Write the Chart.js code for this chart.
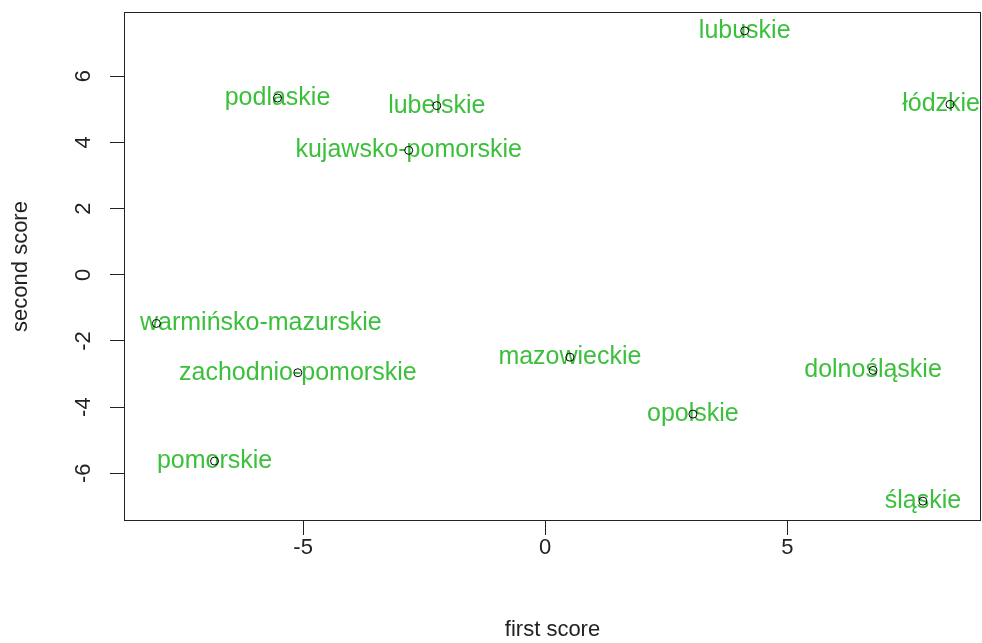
<!DOCTYPE html>
<html>
<head>
<meta charset="utf-8">
<script src="https://cdn.jsdelivr.net/npm/chart.js@4.4.1/dist/chart.umd.min.js"></script>
<style>
  html, body { margin: 0; padding: 0; background: #fff; }
  #wrap { width: 982px; height: 643px; }
</style>
</head>
<body>
<div id="wrap"><canvas id="scoreChart" width="982" height="643"></canvas></div>
<script>
// voivodeship names and their scores
const regions = [
    'lubuskie', 'łódzkie', 'lubelskie', 'podlaskie', 'kujawsko-pomorskie',
    'warmińsko-mazurskie', 'zachodnio-pomorskie', 'mazowieckie', 'dolnośląskie',
    'opolskie', 'pomorskie', 'śląskie'
];
const firstScore = [4.12, 8.36, -2.24, -5.53, -2.82, -8.03, -5.11, 0.51, 6.77, 3.05, -6.83, 7.80];
const secondScore = [7.37, 5.15, 5.11, 5.34, 3.76, -1.47, -2.96, -2.49, -2.89, -4.21, -5.63, -6.84];

const xTicks = [-5, 0, 5];
const yTicks = [-6, -4, -2, 0, 2, 4, 6];

const FONT = "'Liberation Sans', Arial, sans-serif";
const LABEL_COLOR = '#3cc03c';
const AXIS_COLOR = '#222';

const points = firstScore.map((x, i) => ({ x: x, y: secondScore[i] }));

// box round the plot area, like R's box()
const boxPlugin = {
    id: 'box',
    afterDraw(chart) {
        const { ctx, chartArea: a } = chart;
        ctx.save();
        ctx.strokeStyle = AXIS_COLOR;
        ctx.lineWidth = 1;
        ctx.strokeRect(a.left + 0.5, a.top + 0.5, a.right - a.left - 1, a.bottom - a.top - 1);
        ctx.restore();
    }
};

// region names written at each point, pushed back inside the box when they would stick out
const textPlugin = {
    id: 'pointText',
    beforeDatasetsDraw(chart) {
        const ctx = chart.ctx;
        const area = chart.chartArea;
        const meta = chart.getDatasetMeta(0);
        ctx.save();
        ctx.font = '25px ' + FONT;
        ctx.fillStyle = LABEL_COLOR;
        ctx.textAlign = 'center';
        ctx.textBaseline = 'middle';
        meta.data.forEach((pt, i) => {
            const w = ctx.measureText(regions[i]).width;
            let x = pt.x;
            if (x - w / 2 < area.left + 16) x = area.left + 16 + w / 2;
            if (x + w / 2 > area.right - 1) x = area.right - 1 - w / 2;
            ctx.fillText(regions[i], x, pt.y);
        });
        ctx.restore();
    }
};

// no extra room for tick labels, the plot area is fixed
function noPadding(s) {
    s.paddingTop = 0;
    s.paddingBottom = 0;
    s.paddingLeft = 0;
    s.paddingRight = 0;
}

new Chart(document.getElementById('scoreChart'), {
    type: 'scatter',
    data: {
        datasets: [{
            data: points,
            pointStyle: 'circle',
            pointRadius: 4,
            pointBorderWidth: 1,
            pointBorderColor: '#000',
            pointBackgroundColor: 'rgba(0,0,0,0)',
            showLine: false
        }]
    },
    options: {
        responsive: false,
        animation: false,
        devicePixelRatio: 1,
        layout: { autoPadding: false, padding: { top: 12, right: 1, left: 0, bottom: 0 } },
        plugins: {
            legend: { display: false },
            tooltip: { enabled: false }
        },
        scales: {
            x: {
                type: 'linear',
                min: -8.7,
                max: 9.0,
                afterBuildTicks: s => { s.ticks = xTicks.map(v => ({ value: v })); },
                afterFit: s => { s.height = 122; noPadding(s); },
                border: { display: false },
                grid: { drawOnChartArea: false, drawTicks: true, tickLength: 14, color: AXIS_COLOR },
                ticks: { color: AXIS_COLOR, padding: 0, font: { family: FONT, size: 22 } },
                title: {
                    display: true, text: 'first score', color: AXIS_COLOR,
                    font: { family: FONT, size: 22 }, padding: { top: 0, bottom: 0 }
                }
            },
            y: {
                type: 'linear',
                min: -7.44,
                max: 7.94,
                afterBuildTicks: s => { s.ticks = yTicks.map(v => ({ value: v })); },
                afterFit: s => { s.width = 124; noPadding(s); },
                border: { display: false },
                grid: { drawOnChartArea: false, drawTicks: true, tickLength: 14, color: AXIS_COLOR },
                ticks: {
                    color: AXIS_COLOR, padding: 16, crossAlign: 'center',
                    minRotation: 90, maxRotation: 90,
                    font: { family: FONT, size: 22 }
                },
                title: {
                    display: true, text: 'second score', color: AXIS_COLOR,
                    font: { family: FONT, size: 22 }, padding: { top: 8, bottom: 0 }
                }
            }
        }
    },
    plugins: [boxPlugin, textPlugin]
});
</script>
</body>
</html>
